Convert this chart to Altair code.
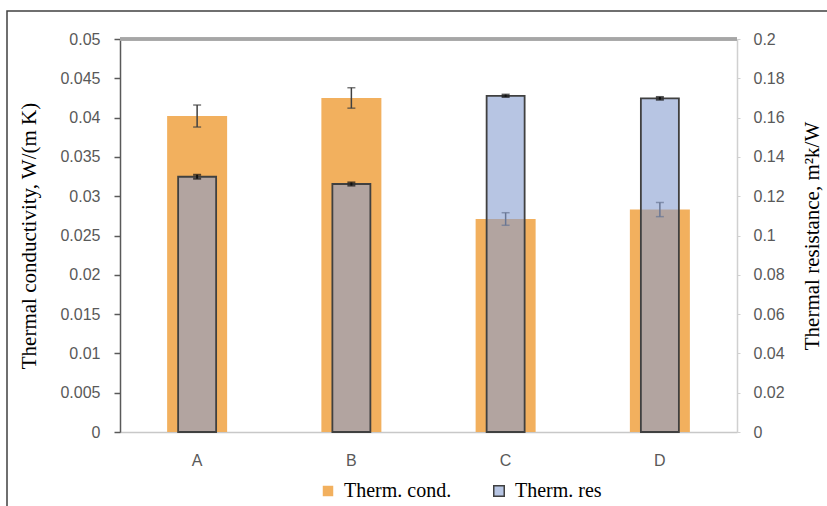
import altair as alt
import pandas as pd

categories = ["A", "B", "C", "D"]
cond = [0.0402, 0.0425, 0.0271, 0.0283]
cond_err = [0.0014, 0.0013, 0.0008, 0.0009]
res = [0.1299, 0.1262, 0.1711, 0.1698]
res_err = [0.0010, 0.0008, 0.0006, 0.0007]
series = ["Therm. cond.", "Therm. res"]
left_ticks = [0, 0.005, 0.01, 0.015, 0.02, 0.025, 0.03, 0.035, 0.04, 0.045, 0.05]
right_ticks = [0, 0.02, 0.04, 0.06, 0.08, 0.1, 0.12, 0.14, 0.16, 0.18, 0.2]

df = pd.DataFrame({"cat": categories, "cond": cond, "cond_err": cond_err,
                   "res": res, "res_err": res_err})
df["s_cond"] = series[0]

W, H = 617, 393
SANS = "Liberation Sans"
SERIF = "Liberation Serif"

base = alt.Chart(df).transform_calculate(
    c_lo="datum.cond - datum.cond_err", c_hi="datum.cond + datum.cond_err",
    r_lo="datum.res - datum.res_err", r_hi="datum.res + datum.res_err")

x_enc = alt.X("cat:N", sort=categories,
              scale=alt.Scale(paddingInner=0, paddingOuter=0),
              axis=alt.Axis(title=None, labelAngle=0, ticks=False, domainColor="#c8c8c8",
                            domainWidth=1.5, labelFont=SANS, labelFontSize=16,
                            labelColor="#595959", labelPadding=20))

legend = alt.Legend(title=None, orient="none", legendX=198, legendY=442,
                    direction="horizontal", symbolType="square", symbolSize=110,
                    symbolStrokeWidth=1.5, labelFont=SERIF, labelFontSize=20,
                    labelColor="black", columnPadding=37, labelOffset=6)
fill_scale = alt.Scale(domain=series, range=["#F2B05E", "#B7C5E3"])
stroke_scale = alt.Scale(domain=series, range=["transparent", "#404040"])

lscale = alt.Scale(domain=[0, 0.05], nice=False, zero=True)
rscale = alt.Scale(domain=[0, 0.2], nice=False, zero=True)

left_axis = alt.Axis(title="Thermal conductivity, W/(m K)", orient="left", values=left_ticks,
                     format="~g",
                     grid=False, domainColor="#595959", domainWidth=1.5,
                     tickColor="#595959", tickWidth=1.5, tickSize=6,
                     labelFont=SANS, labelFontSize=16, labelColor="#595959", labelPadding=14,
                     titleFont=SERIF, titleFontSize=21, titleFontWeight="normal",
                     titleColor="black", titleX=-91, titleY=H / 2, titleAngle=270,
                     titleBaseline="middle", titleAlign="center")
right_axis = alt.Axis(title="Thermal resistance, m²k/W", orient="right", values=right_ticks,
                      format="~g", grid=False, domainColor="#d0d0d0", domainWidth=1.5,
                      tickColor="#d0d0d0", tickWidth=1, tickSize=3,
                      labelFont=SANS, labelFontSize=16, labelColor="#595959", labelPadding=13,
                      titleFont=SERIF, titleFontSize=21, titleFontWeight="normal",
                      titleColor="black", titleX=75, titleY=H / 2, titleAngle=270,
                      titleBaseline="middle", titleAlign="center")

xc = alt.X("cat:N", sort=categories)

top_rule = base.mark_rule(color="#a6a6a6", strokeWidth=3).encode(
    y=alt.datum(0.05, scale=lscale, axis=left_axis))

cond_bars = base.mark_bar(size=60, strokeWidth=1.5).encode(
    x=x_enc,
    y=alt.Y("cond:Q", scale=lscale, axis=left_axis),
    fill=alt.Fill("s_cond:N", scale=fill_scale, legend=legend),
    stroke=alt.Stroke("s_cond:N", scale=stroke_scale, legend=legend),
)
cond_rule = base.mark_rule(color="#404040", strokeWidth=1.5).encode(
    x=xc, y=alt.Y("c_lo:Q", scale=lscale, axis=left_axis), y2="c_hi:Q")
cond_tlo = base.mark_tick(color="#404040", size=8, thickness=1.5).encode(
    x=xc, y=alt.Y("c_lo:Q", scale=lscale, axis=left_axis))
cond_thi = base.mark_tick(color="#404040", size=8, thickness=1.5).encode(
    x=xc, y=alt.Y("c_hi:Q", scale=lscale, axis=left_axis))

left = alt.layer(top_rule, cond_bars, cond_rule, cond_tlo, cond_thi)

res_bars = base.mark_bar(size=38, strokeWidth=1.8, fill="#849CCF", fillOpacity=0.59,
                         stroke="#404040").encode(
    x=x_enc,
    y=alt.Y("res:Q", scale=rscale, axis=right_axis),
)
res_rule = base.mark_rule(color="#111111", strokeWidth=2).encode(
    x=xc, y=alt.Y("r_lo:Q", scale=rscale, axis=right_axis), y2="r_hi:Q")
res_tlo = base.mark_tick(color="#111111", size=8, thickness=2).encode(
    x=xc, y=alt.Y("r_lo:Q", scale=rscale, axis=right_axis))
res_thi = base.mark_tick(color="#111111", size=8, thickness=2).encode(
    x=xc, y=alt.Y("r_hi:Q", scale=rscale, axis=right_axis))

right = alt.layer(res_bars, res_rule, res_tlo, res_thi)

frame = alt.Chart(alt.Data(values=[{"k": 1}])).mark_rect(
    fill="transparent", stroke="#404040", strokeWidth=1.5).encode(
    x=alt.value(-113), x2=alt.value(W + 200), y=alt.value(-28), y2=alt.value(H + 200))

chart = alt.layer(frame, left, right).resolve_scale(y="independent").properties(
    width=W, height=H,
    autosize=alt.AutoSizeParams(type="none"),
    padding={"left": 120, "top": 39, "right": 90, "bottom": 74},
).configure_view(strokeWidth=0).configure(background="white")

chart.save("out.html", embed_options={"renderer": "svg", "actions": False})
